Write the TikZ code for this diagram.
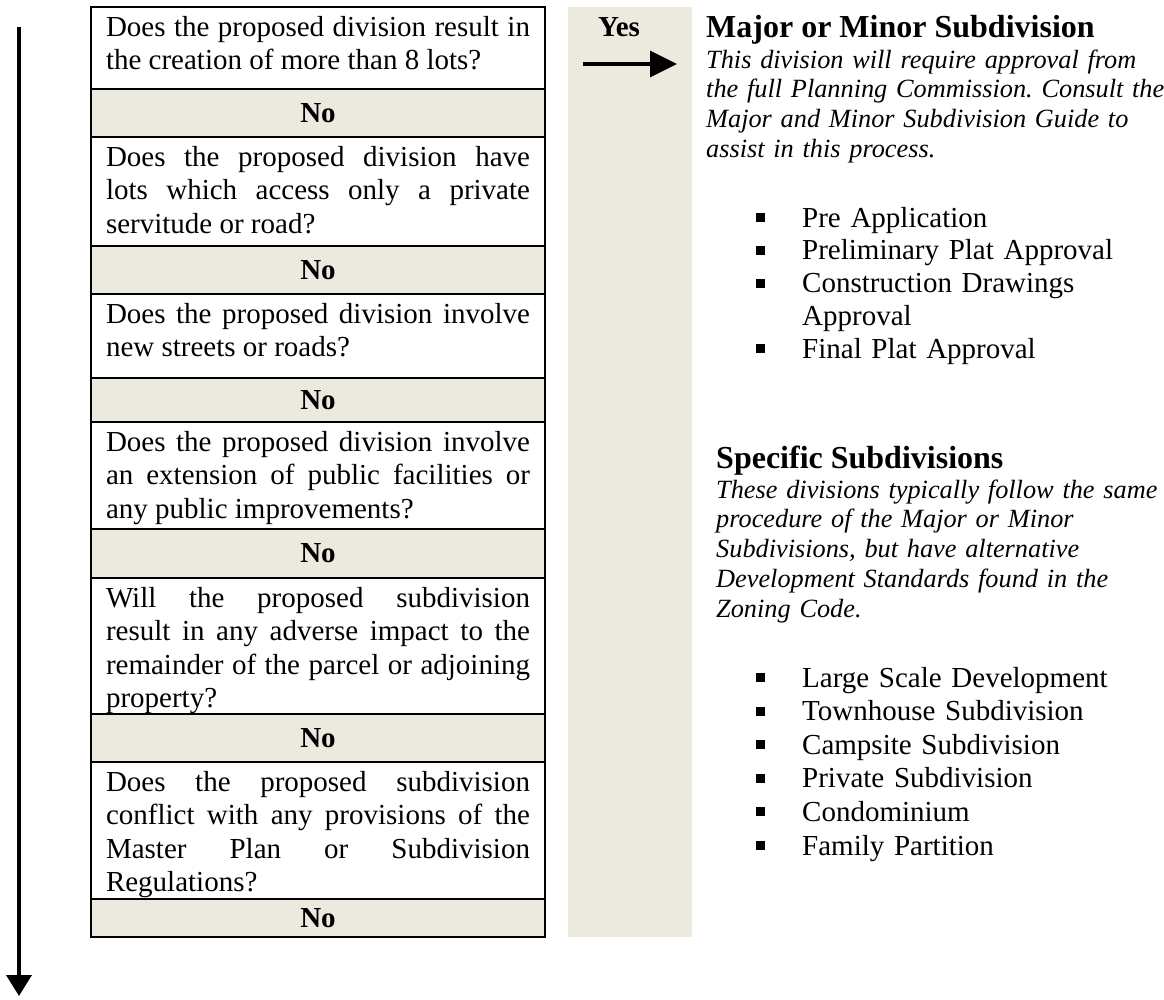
\documentclass[tikz,border=0pt]{standalone}
\usepackage{fontspec}
\setmainfont{Liberation Serif}
\usepackage{tikz}
\usetikzlibrary{arrows.meta}
\usetikzlibrary{positioning}
\frenchspacing
\definecolor{panelbeige}{RGB}{236,233,223}
\newcommand{\sqbullet}{\makebox[46pt][l]{\rule[5pt]{9pt}{9pt}}}
\tikzset{
  qbox/.style = {rectangle, draw=black, line width=2.2pt, outer sep=0pt,
    inner xsep=15pt, inner ysep=0pt, text width=424pt, align=justify,
    text height=29pt, font=\fontsize{29}{33.5}\selectfont},% ligne question
  nobox/.style = {rectangle, draw=black, line width=2.2pt, outer sep=0pt,
    inner sep=0pt, fill=panelbeige, minimum width=454pt,
    font=\fontsize{29}{33.5}\selectfont\bfseries},% ligne reponse
  headtxt/.style = {anchor=base west, inner sep=0pt,
    font=\fontsize{32}{36}\selectfont\bfseries},% titre
  notetxt/.style = {anchor=base west, inner sep=0pt, text width=470pt,
    align=left, font=\fontsize{26.3}{29.75}\selectfont\itshape},% texte italique
  listtxt/.style = {anchor=base west, inner sep=0pt, text width=400pt,
    align=left}% liste a puces
}

\begin{document}
\begin{tikzpicture}[x=1pt,y=-1pt,>={Triangle[length=21pt,width=25pt]}]
\useasboundingbox (0,0) rectangle (1164,999);
\node [fill=panelbeige, inner sep=0pt, outer sep=0pt, anchor=north west,
  minimum width=124pt, minimum height=930pt] (yescol) at (568,7) {};

\node [qbox, anchor=north west, text depth=53pt] (q1) at (91,7)
  {Does the proposed division result in\linebreak the creation of more than 8 lots?};
\node [nobox, minimum height=48pt, below=0pt of q1] (no1) {No};
\node [qbox, text depth=80pt, below=0pt of no1] (q2)
  {Does the proposed division have\linebreak lots which access only a private\linebreak servitude or road?};
\node [nobox, minimum height=48pt, below=0pt of q2] (no2) {No};
\node [qbox, text depth=55pt, below=0pt of no2] (q3)
  {Does the proposed division involve\linebreak new streets or roads?};
\node [nobox, minimum height=44pt, below=0pt of q3] (no3) {No};
\node [qbox, text depth=78pt, below=0pt of no3] (q4)
  {Does the proposed division involve\linebreak an extension of public facilities or\linebreak any public improvements?};
\node [nobox, minimum height=49pt, below=0pt of q4] (no4) {No};
\node [qbox, text depth=107pt, below=0pt of no4] (q5)
  {Will the proposed subdivision\linebreak result in any adverse impact to the\linebreak remainder of the parcel or adjoining\linebreak property?};
\node [nobox, minimum height=48pt, below=0pt of q5] (no5) {No};
\node [qbox, text depth=108pt, below=0pt of no5] (q6)
  {Does the proposed subdivision\linebreak conflict with any provisions of the\linebreak Master Plan or Subdivision\linebreak Regulations?};
\node [nobox, minimum height=38pt, below=0pt of q6] (no6) {No};

\coordinate (flowtop) at (19,27);
\coordinate (flowend) at (19,996);
\draw [->, line width=3.5pt] (flowtop) -- (flowend);

\node [anchor=base, inner sep=0pt, font=\fontsize{29}{33.5}\selectfont\bfseries]
  (yes) at (619,36) {Yes};
\coordinate (yesfrom) at (583,64);
\coordinate (yesto) at (677,64);
\draw [-{Triangle[length=27pt,width=26pt]}, line width=3.5pt] (yesfrom) -- (yesto);

\node [headtxt] (majorhead) at (706,37) {Major or Minor Subdivision};
\node [notetxt] (majornote) at (706,68) {This division will require approval from\\
  the full Planning Commission. Consult the\\
  Major and Minor Subdivision Guide to\\
  assist in this process.};
\node [listtxt, font=\fontsize{29}{32.8}\selectfont] (majorlist) at (756,227)
  {\sqbullet Pre Application\\
  \sqbullet Preliminary Plat Approval\\
  \sqbullet Construction Drawings\\
  \hspace*{46pt}Approval\\
  \sqbullet Final Plat Approval};

\node [headtxt] (specifichead) at (716,468) {Specific Subdivisions};
\node [notetxt] (specificnote) at (716,498) {These divisions typically follow the same\\
  procedure of the Major or Minor\\
  Subdivisions, but have alternative\\
  Development Standards found in the\\
  Zoning Code.};
\node [listtxt, font=\fontsize{29}{33.6}\selectfont] (specificlist) at (756,687)
  {\sqbullet Large Scale Development\\
  \sqbullet Townhouse Subdivision\\
  \sqbullet Campsite Subdivision\\
  \sqbullet Private Subdivision\\
  \sqbullet Condominium\\
  \sqbullet Family Partition};
\end{tikzpicture}
\end{document}
